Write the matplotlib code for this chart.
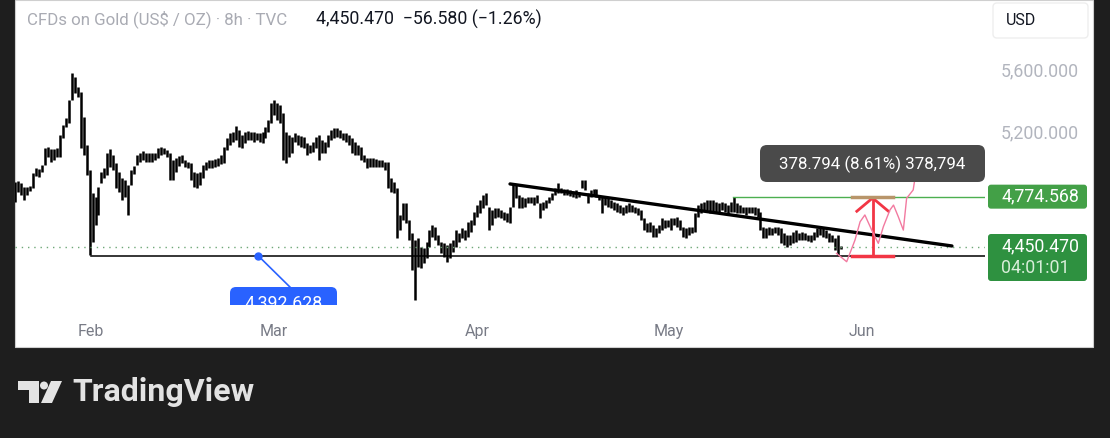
import matplotlib.pyplot as plt
from matplotlib.patches import Rectangle, FancyBboxPatch, Circle, Polygon

plt.rcParams['font.family'] = ['Roboto', 'DejaVu Sans']

# 8h candles (high / low, US$)
highs = [
    4872, 4878, 4865, 4839, 4835, 4844, 4930, 4958, 4952, 4980, 5088, 5094, 5081, 5081, 5088, 5174,
    5239, 5282, 5401, 5574, 5552, 5487, 5455, 5293, 5109, 4947, 4796, 4774, 4839, 4936, 4958, 5055,
    5081, 5044, 4990, 4936, 4893, 4882, 4850, 4947, 4973, 5044, 5055, 5072, 5055, 5055, 5055,
    5055, 5088, 5094, 5088, 5077, 5055, 5012, 5023, 5038, 5044, 5012, 5001, 4990, 4936, 4926, 4936,
    4980, 5001, 5012, 5012, 5016, 5023, 5044, 5098, 5152, 5185, 5196, 5232, 5206, 5174, 5196, 5202,
    5196, 5196, 5189, 5185, 5196, 5228, 5271, 5379, 5401, 5379, 5368, 5314, 5196, 5174, 5163,
    5185, 5174, 5168, 5163, 5120, 5109, 5131, 5163, 5174, 5142, 5131, 5174, 5206, 5217, 5217, 5206,
    5189, 5185, 5174, 5152, 5131, 5109, 5098, 5044, 5023, 5023, 5023, 5016, 5012, 5012, 5001, 5001,
    4893, 4872, 4828, 4656, 4731, 4731, 4623, 4537, 4494, 4504, 4450, 4440, 4483, 4558, 4591,
    4580, 4526, 4483, 4472, 4461, 4472, 4494, 4559, 4537, 4569, 4559, 4613, 4623, 4677, 4721, 4753,
    4785, 4796, 4710, 4688, 4699, 4699, 4688, 4677, 4667, 4710, 4861, 4850, 4785, 4775, 4764, 4775,
    4775, 4775, 4785, 4731, 4742, 4753, 4775, 4796, 4829, 4861, 4829, 4822, 4822, 4818, 4813,
    4818, 4807, 4883, 4883, 4796, 4818, 4822, 4822, 4785, 4775, 4775, 4764, 4753, 4742, 4731, 4721,
    4710, 4721, 4731, 4721, 4710, 4699, 4688, 4634, 4602, 4613, 4591, 4569, 4591, 4634, 4623, 4623,
    4634, 4634, 4645, 4623, 4580, 4569, 4580, 4580, 4667, 4721, 4731, 4742, 4753, 4753, 4753,
    4742, 4731, 4742, 4731, 4721, 4742, 4772, 4731, 4721, 4710, 4710, 4710, 4710, 4710, 4699, 4677,
    4580, 4569, 4580, 4569, 4580, 4580, 4569, 4537, 4526, 4526, 4548, 4559, 4537, 4548, 4537, 4526,
    4526, 4548, 4569, 4580, 4569, 4559, 4537, 4526, 4505, 4526, 4458,
]
lows = [
    4742, 4807, 4785, 4753, 4785, 4813, 4828, 4908, 4904, 4936, 4980, 5029, 5001, 5012, 5034, 5034,
    5152, 5228, 5250, 5401, 5444, 5422, 5088, 5044, 4915, 4396, 4483, 4591, 4656, 4861, 4893, 4915,
    4969, 4947, 4828, 4807, 4753, 4774, 4656, 4850, 4921, 4980, 5001, 5012, 5001, 5001, 5001,
    5012, 5023, 5044, 5051, 5034, 4882, 4882, 4936, 4973, 4990, 4969, 4958, 4882, 4839, 4828, 4850,
    4893, 4947, 4958, 4958, 4964, 4973, 4986, 4990, 5077, 5109, 5131, 5142, 5098, 5088, 5120, 5142,
    5142, 5131, 5142, 5131, 5120, 5152, 5196, 5250, 5304, 5271, 5250, 5012, 4990, 5034, 5055,
    5131, 5109, 5098, 5088, 5044, 5055, 5066, 5088, 5012, 5055, 5055, 5098, 5142, 5152, 5163, 5152,
    5142, 5131, 5109, 5055, 5044, 5044, 5012, 5001, 4958, 4969, 4969, 4969, 4969, 4969, 4947, 4828,
    4807, 4796, 4504, 4558, 4623, 4602, 4494, 4299, 4105, 4321, 4310, 4342, 4375, 4450, 4515,
    4494, 4461, 4407, 4386, 4353, 4375, 4418, 4451, 4483, 4505, 4494, 4515, 4548, 4591, 4645, 4667,
    4699, 4721, 4559, 4591, 4634, 4645, 4634, 4623, 4613, 4602, 4710, 4764, 4699, 4699, 4710, 4731,
    4731, 4721, 4731, 4634, 4688, 4699, 4731, 4753, 4785, 4796, 4796, 4785, 4785, 4779, 4775,
    4764, 4775, 4829, 4818, 4731, 4775, 4785, 4775, 4753, 4667, 4721, 4710, 4699, 4688, 4677, 4667,
    4656, 4667, 4677, 4677, 4667, 4656, 4623, 4559, 4548, 4548, 4511, 4515, 4537, 4559, 4569, 4580,
    4559, 4591, 4580, 4559, 4515, 4505, 4526, 4537, 4548, 4645, 4667, 4688, 4688, 4667, 4677,
    4667, 4677, 4688, 4677, 4656, 4677, 4677, 4667, 4667, 4667, 4656, 4667, 4667, 4656, 4645, 4559,
    4505, 4505, 4526, 4526, 4537, 4526, 4472, 4461, 4451, 4461, 4472, 4483, 4494, 4494, 4494, 4489,
    4483, 4494, 4515, 4526, 4515, 4505, 4483, 4483, 4429, 4395, 4436,
]

last_price = 4450.470
change = -56.580
change_pct = -1.26
level_low = 4392.628     # horizontal support
level_high = 4774.568    # target line
move = 378.794
move_pct = 8.61
countdown = "04:01:01"

month_labels = ["Feb", "Mar", "Apr", "May", "Jun"]
month_pos = [25.5, 86.9, 154.9, 219.3, 284.0]     # candle index
price_ticks = [5600, 5200]

# drawings (candle index, price)
trend_x = [166.0, 314.2]
trend_y = [4857, 4455]
sketch_x = [275.5, 278.9, 281.7, 283.4, 285.0, 287.3, 289.5, 291.2, 293.4, 294.6, 296.2, 297.9, 299.0, 301.2, 301.8]
sketch_y = [4407, 4353, 4494, 4612, 4656, 4558, 4472, 4580, 4688, 4720, 4645, 4558, 4764, 4818, 4893]

W, H = 1110, 438
AX_L, AX_R, AX_B = 15, 985, 305
xmin, xmax = 0, (AX_R - AX_L) / 2.982
ymin, ymax = 4072.5, 6049


def px_y(p):
    return (ymax - p) / (ymax - ymin) * AX_B


fig = plt.figure(figsize=(W / 100, H / 100), dpi=100)
fig.patch.set_facecolor('#1e1e1e')

# background layer in pixels
bg = fig.add_axes([0, 0, 1, 1], zorder=0)
bg.set_xlim(0, W)
bg.set_ylim(H, 0)
bg.axis('off')
bg.add_patch(Rectangle((15, 0), 1078, 347, fc='white', ec='#cfcfcf', lw=0.8))

# chart
ax = fig.add_axes([AX_L / W, 1 - AX_B / H, (AX_R - AX_L) / W, AX_B / H], zorder=2)
ax.patch.set_alpha(0)
ax.set_xlim(xmin, xmax)
ax.set_ylim(ymin, ymax)
for s in ax.spines.values():
    s.set_visible(False)

ax.vlines(range(len(highs)), lows, highs, color='black', lw=1.8)

ax.axhline(last_price, color='#6fa878', lw=1, ls=(0, (1, 3.5)))
ax.plot([month_pos[0], xmax], [level_low, level_low], color='black', lw=1.1)
ax.plot(trend_x, trend_y, color='black', lw=2.4, solid_capstyle='round')
ax.plot([240.8, xmax], [level_high, level_high], color='#4caf50', lw=1)

# measure arrow
ax.plot([287.6, 287.6], [level_low, 4766], color='#f23645', lw=2)
ax.plot([282.3, 287.6, 292.9], [4680, 4766, 4680], color='#f23645', lw=2)
ax.plot([280.6, 294.5], [level_low, level_low], color='#f23645', lw=2.5)
ax.plot([280.6, 294.5], [level_high, level_high], color='#b8956a', lw=2.5)
ax.plot(sketch_x, sketch_y, color='#f27aa0', lw=1)

# blue anchor
ax.plot([81.5, 92.2], [level_low, 4189], color='#2962ff', lw=1.2)
ax.plot(81.5, level_low, 'o', ms=5, color='#2962ff')

ax.set_xticks(month_pos, month_labels)
ax.tick_params(axis='x', length=0, pad=14, labelcolor='#787b86', labelsize=11.5)
ax.yaxis.tick_right()
ax.set_yticks(price_ticks, [f"{p:,.3f}" for p in price_ticks])
ax.tick_params(axis='y', length=0, pad=11.5, labelcolor='#b2b5be', labelsize=12.8)

# foreground layer in pixels
fg = fig.add_axes([0, 0, 1, 1], zorder=3)
fg.set_xlim(0, W)
fg.set_ylim(H, 0)
fg.axis('off')
fg.patch.set_alpha(0)

fg.text(27, 19, "CFDs on Gold (US$ / OZ) · 8h · TVC", va='center', color='#a9abb3', fontsize=12.2)
fg.text(316, 19, f"{last_price:,.3f}  −{abs(change):.3f} (−{abs(change_pct):.2f}%)",
        va='center', color='#131722', fontsize=12.8)

fg.add_patch(FancyBboxPatch((993, 3), 95, 35, boxstyle='round,pad=0,rounding_size=4',
                            fc='white', ec='#eeeeee', lw=1))
fg.text(1006, 20.5, "USD", va='center', color='#131722', fontsize=11.5)

# tooltip
fg.add_patch(FancyBboxPatch((760, 145), 225, 37, boxstyle='round,pad=0,rounding_size=7',
                            fc='#4a4a4a', ec='none'))
move_txt = f"{move:.3f} ({move_pct:.2f}%) " + f"{move:.3f}".replace(".", ",")
fg.text(872.5, 164, move_txt, ha='center', va='center', color='white', fontsize=12.2)

# price labels
fg.add_patch(FancyBboxPatch((988, px_y(level_high) - 12), 99, 24, boxstyle='round,pad=0,rounding_size=3',
                            fc='#43a047', ec='none'))
fg.text(1001, px_y(level_high), f"{level_high:,.3f}", va='center', color='white', fontsize=12.8)
fg.add_patch(FancyBboxPatch((988, 234), 99, 47, boxstyle='round,pad=0,rounding_size=3',
                            fc='#2e9140', ec='none'))
fg.text(1001, 246, f"{last_price:,.3f}", va='center', color='white', fontsize=12.8)
fg.text(1001, 268, countdown, va='center', color='#d8eed9', fontsize=12.8)

# blue label cut by the time axis
clip = Rectangle((0, 0), W, AX_B, transform=fg.transData)
lab = FancyBboxPatch((230, 287), 107, 30, boxstyle='round,pad=0,rounding_size=6', fc='#2962ff', ec='none')
fg.add_patch(lab)
lab.set_clip_path(clip)
t = fg.text(283.5, 303, f"{level_low:,.3f}", ha='center', va='center', color='white', fontsize=12.8)
t.set_clip_path(clip)

# logo
logo_c = '#e3e3e3'
fg.add_patch(Polygon([(18, 381), (39, 381), (39, 403), (29, 403), (29, 390), (18, 390)], closed=True,
                     fc=logo_c, ec='none'))
fg.add_patch(Circle((44, 385.5), 4, fc=logo_c, ec='none'))
fg.add_patch(Polygon([(51, 381), (62, 381), (52, 403), (41, 403)], closed=True, fc=logo_c, ec='none'))
fg.text(72, 392, "TradingView", va='center', color=logo_c, fontsize=23, fontweight='bold')

fig.savefig("out.png", dpi=100, facecolor=fig.get_facecolor())
